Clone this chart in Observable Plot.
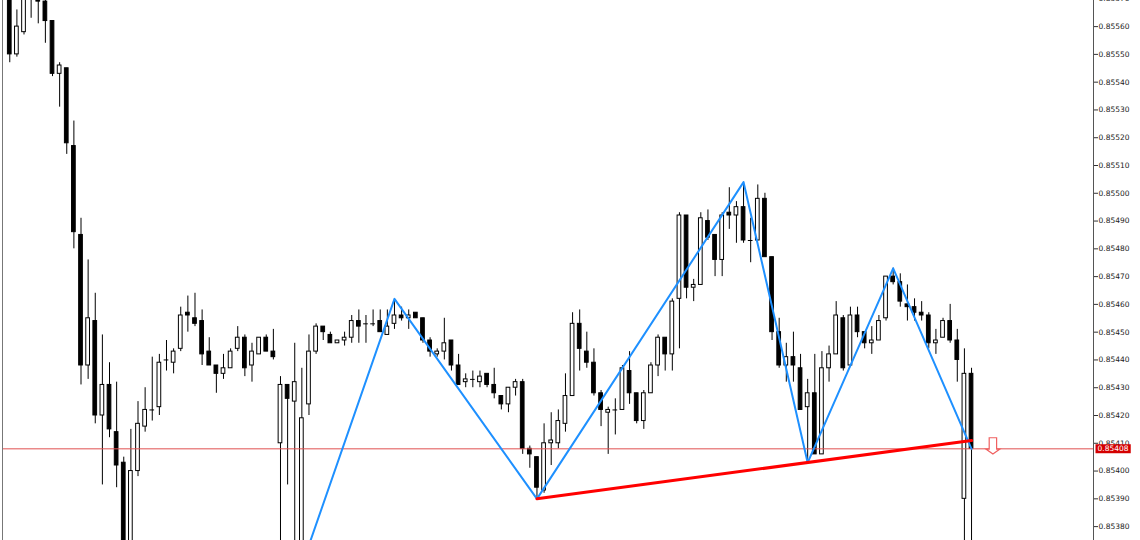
<!DOCTYPE html>
<html><head><meta charset="utf-8">
<script src="https://cdn.jsdelivr.net/npm/d3@7"></script>
<script src="https://cdn.jsdelivr.net/npm/@observablehq/plot@0.6"></script>
<style>html,body{margin:0;padding:0;background:#fff;} #chart svg{display:block}</style>
</head><body><div id="chart"></div>
<script>
// OHLC per bar (index 0..135)
const opens = [0.85573,0.85550,0.85558,0.85572,0.85570,0.85569,0.85562,0.85543,0.85545,0.85517,
0.85485,0.85438,0.85454,0.85420,0.85431,0.85414,0.85403,0.85372,0.85400,0.85416,
0.85422,0.85423,0.85440,0.85439,0.85444,0.85457,0.85455,0.85454,0.85443,0.85438,
0.85435,0.85437,0.85444,0.85448,0.85438,0.85442,0.85448,0.85443,0.85410,0.85431,
0.85425,0.85370,0.85424,0.85443,0.85452,0.85449,0.85446,0.85447,0.85448,0.85454,
0.85453,0.85453,0.85454,0.85449,0.85453,0.85456,0.85455,0.85457,0.85455,0.85447,
0.85442,0.85443,0.85447,0.85438,0.85432,0.85433,0.85432,0.85435,0.85431,0.85427,
0.85424,0.85430,0.85432,0.85408,0.85405,0.85393,0.85410,0.85410,0.85417,0.85427,
0.85453,0.85443,0.85439,0.85428,0.85421,0.85422,0.85422,0.85436,0.85428,0.85418,
0.85428,0.85438,0.85448,0.85442,0.85462,0.85492,0.85466,0.85467,0.85490,0.85485,
0.85476,0.85493,0.85492,0.85495,0.85483,0.85483,0.85498,0.85477,0.85450,0.85438,
0.85441,0.85437,0.85423,0.85428,0.85406,0.85437,0.85442,0.85455,0.85438,0.85456,
0.85450,0.85446,0.85447,0.85455,0.85470,0.85468,0.85460,0.85459,0.85457,0.85456,
0.85446,0.85448,0.85454,0.85447,0.85390,0.85435];
const highs = [0.85575,0.85566,0.85572,0.85574,0.85572,0.85571,0.85562,0.85547,0.85545,0.85526,
0.85491,0.85476,0.85464,0.85449,0.85439,0.85432,0.85405,0.85415,0.85425,0.85430,
0.85441,0.85442,0.85447,0.85444,0.85459,0.85463,0.85464,0.85458,0.85448,0.85438,
0.85442,0.85444,0.85452,0.85449,0.85446,0.85448,0.85449,0.85451,0.85434,0.85431,
0.85446,0.85437,0.85449,0.85453,0.85452,0.85450,0.85447,0.85450,0.85456,0.85458,
0.85456,0.85458,0.85458,0.85458,0.85462,0.85459,0.85458,0.85457,0.85455,0.85448,
0.85444,0.85455,0.85447,0.85442,0.85435,0.85436,0.85436,0.85435,0.85437,0.85427,
0.85430,0.85433,0.85433,0.85409,0.85405,0.85417,0.85421,0.85422,0.85435,0.85457,
0.85458,0.85450,0.85444,0.85429,0.85423,0.85426,0.85438,0.85443,0.85428,0.85429,
0.85439,0.85449,0.85448,0.85462,0.85493,0.85492,0.85469,0.85493,0.85494,0.85485,
0.85493,0.85502,0.85497,0.85504,0.85491,0.85503,0.85500,0.85477,0.85455,0.85446,
0.85450,0.85442,0.85433,0.85442,0.85443,0.85445,0.85461,0.85456,0.85459,0.85459,
0.85450,0.85452,0.85456,0.85470,0.85473,0.85471,0.85467,0.85462,0.85461,0.85457,
0.85451,0.85455,0.85460,0.85451,0.85444,0.85437];
const lows = [0.85547,0.85549,0.85557,0.85563,0.85561,0.85554,0.85542,0.85531,0.85514,0.85480,
0.85431,0.85433,0.85417,0.85395,0.85412,0.85394,0.85366,0.85368,0.85398,0.85414,
0.85418,0.85420,0.85436,0.85435,0.85443,0.85450,0.85452,0.85438,0.85438,0.85428,
0.85433,0.85437,0.85443,0.85434,0.85432,0.85442,0.85443,0.85440,0.85370,0.85395,
0.85368,0.85366,0.85420,0.85442,0.85447,0.85446,0.85446,0.85445,0.85446,0.85446,
0.85446,0.85452,0.85450,0.85449,0.85451,0.85454,0.85451,0.85455,0.85446,0.85441,
0.85441,0.85440,0.85436,0.85431,0.85430,0.85430,0.85430,0.85430,0.85426,0.85422,
0.85421,0.85427,0.85406,0.85401,0.85390,0.85392,0.85402,0.85408,0.85414,0.85427,
0.85436,0.85437,0.85427,0.85416,0.85406,0.85413,0.85422,0.85424,0.85417,0.85415,
0.85428,0.85434,0.85436,0.85436,0.85444,0.85462,0.85461,0.85467,0.85483,0.85470,
0.85470,0.85487,0.85482,0.85482,0.85475,0.85483,0.85477,0.85447,0.85437,0.85432,
0.85432,0.85422,0.85403,0.85406,0.85406,0.85432,0.85442,0.85436,0.85438,0.85448,
0.85444,0.85442,0.85447,0.85454,0.85467,0.85459,0.85454,0.85454,0.85454,0.85444,
0.85442,0.85448,0.85446,0.85432,0.85360,0.85365];
const closes = [0.85550,0.85560,0.85570,0.85570,0.85569,0.85562,0.85543,0.85546,0.85518,0.85486,
0.85438,0.85455,0.85420,0.85431,0.85415,0.85402,0.85370,0.85400,0.85417,0.85422,
0.85422,0.85439,0.85440,0.85443,0.85456,0.85456,0.85453,0.85442,0.85438,0.85435,
0.85437,0.85443,0.85448,0.85437,0.85443,0.85448,0.85443,0.85441,0.85431,0.85426,
0.85432,0.85419,0.85443,0.85452,0.85450,0.85446,0.85447,0.85448,0.85454,0.85452,
0.85453,0.85453,0.85450,0.85452,0.85456,0.85455,0.85456,0.85455,0.85447,0.85443,
0.85443,0.85446,0.85438,0.85431,0.85433,0.85433,0.85434,0.85431,0.85428,0.85424,
0.85430,0.85432,0.85408,0.85406,0.85394,0.85410,0.85411,0.85418,0.85427,0.85453,
0.85444,0.85439,0.85428,0.85422,0.85422,0.85422,0.85437,0.85428,0.85418,0.85428,
0.85438,0.85448,0.85442,0.85461,0.85492,0.85466,0.85467,0.85491,0.85484,0.85476,
0.85492,0.85492,0.85495,0.85483,0.85483,0.85498,0.85477,0.85450,0.85438,0.85441,
0.85438,0.85422,0.85428,0.85406,0.85437,0.85442,0.85456,0.85437,0.85456,0.85450,
0.85446,0.85447,0.85454,0.85470,0.85468,0.85461,0.85459,0.85457,0.85456,0.85446,
0.85447,0.85454,0.85447,0.85440,0.85435,0.85408];

// ZigZag pivots (bar index, price)
const zigzagIndex = [41, 54, 74, 103, 112, 124, 135];
const zigzagPrice = [0.85366, 0.85462, 0.85390, 0.85504, 0.85403, 0.85473, 0.85408];
// Neckline (red)
const necklineIndex = [74, 135];
const necklinePrice = [0.85390, 0.85411];
// Current bid line & sell arrow
const lastPrice = 0.85408;
const arrowIndex = [138];
const arrowPrice = [0.85409];
// Price axis tick labels
const yTicks = [0.85380,0.85390,0.85400,0.85410,0.85420,0.85430,0.85440,0.85450,0.85460,0.85470,
0.85480,0.85490,0.85500,0.85510,0.85520,0.85530,0.85540,0.85550,0.85560,0.85570];

const candles = opens.map((o, i) => ({i, open: o, high: highs[i], low: lows[i], close: closes[i]}));
const bulls = candles.filter(d => d.close > d.open);
const bears = candles.filter(d => d.close < d.open);
const dojis = candles.filter(d => d.close === d.open);
const zigzag = zigzagIndex.map((i, k) => ({i, p: zigzagPrice[k]}));
const neckline = necklineIndex.map((i, k) => ({i, p: necklinePrice[k]}));
const arrows = arrowIndex.map((i, k) => ({i, p: arrowPrice[k]}));
const half = 0.26;
const fmt = d3.format(".5f");

const sellArrow = {
  draw(ctx, size) {
    const r = Math.sqrt(size / Math.PI);
    ctx.moveTo(-0.53 * r, -1.19 * r);
    ctx.lineTo(0.53 * r, -1.19 * r);
    ctx.lineTo(0.53 * r, 0.43 * r);
    ctx.lineTo(r, 0.43 * r);
    ctx.lineTo(0, 1.14 * r);
    ctx.lineTo(-r, 0.43 * r);
    ctx.lineTo(-0.53 * r, 0.43 * r);
    ctx.closePath();
  }
};

const chart = Plot.plot({
  width: 1140,
  height: 540,
  marginLeft: 2,
  marginRight: 47,
  marginTop: 0,
  marginBottom: 0,
  style: {fontFamily: "'DejaVu Sans', sans-serif", fontSize: "7.5px", color: "#222", background: "#fff"},
  x: {domain: [-1.02, 152.12], axis: null},
  y: {domain: [0.85375, 0.855694], axis: null},
  marks: [
    Plot.ruleX(candles, {x: "i", y1: "low", y2: "high", stroke: "#000", strokeWidth: 1, clip: true}),
    Plot.rect(bulls, {x1: d => d.i - half, x2: d => d.i + half, y1: "open", y2: "close", fill: "#fff", stroke: "#000", strokeWidth: 1, clip: true}),
    Plot.rect(bears, {x1: d => d.i - half, x2: d => d.i + half, y1: "open", y2: "close", fill: "#000", stroke: "#000", strokeWidth: 1, clip: true}),
    Plot.ruleY(dojis, {y: "close", x1: d => d.i - half - 0.07, x2: d => d.i + half + 0.07, stroke: "#000", clip: true}),
    Plot.ruleY([lastPrice], {stroke: "#e05050", strokeWidth: 1}),
    Plot.line(zigzag, {x: "i", y: "p", stroke: "#1e90ff", strokeWidth: 2, clip: true}),
    Plot.line(neckline, {x: "i", y: "p", stroke: "#ff0000", strokeWidth: 3, clip: true}),
    Plot.dot(arrows, {x: "i", y: "p", symbol: sellArrow, r: 7, fill: "#fff", stroke: "#f06060", strokeWidth: 1.2}),
    Plot.frame({anchor: "left", stroke: "#777"}),
    Plot.frame({anchor: "right", stroke: "#555"}),
    Plot.axisY(yTicks, {anchor: "right", tickSize: 4, tickPadding: 1, tickFormat: fmt, fill: "#222", stroke: "#333"}),
    Plot.text([lastPrice], {y: d => d, frameAnchor: "right", dx: 4, textAnchor: "start", text: d => fmt(d), fill: "#fff", fontSize: "7.5px"})
  ]
});
document.getElementById("chart").appendChild(chart);

// red background box behind the last-price label
d3.select(chart).selectAll("text").filter(function() {
  return this.textContent === fmt(lastPrice) && this.getAttribute("fill") === "#fff" || (this.textContent === fmt(lastPrice) && this.parentNode.getAttribute("fill") === "#fff");
}).each(function() {
  const b = this.getBBox();
  const r = document.createElementNS("http://www.w3.org/2000/svg", "rect");
  r.setAttribute("x", b.x - 2);
  r.setAttribute("y", b.y);
  r.setAttribute("width", b.width + 4);
  r.setAttribute("height", b.height);
  r.setAttribute("fill", "#d40000");
  const t = this.getAttribute("transform");
  if (t) r.setAttribute("transform", t);
  this.parentNode.insertBefore(r, this);
});
</script>
</body></html>
